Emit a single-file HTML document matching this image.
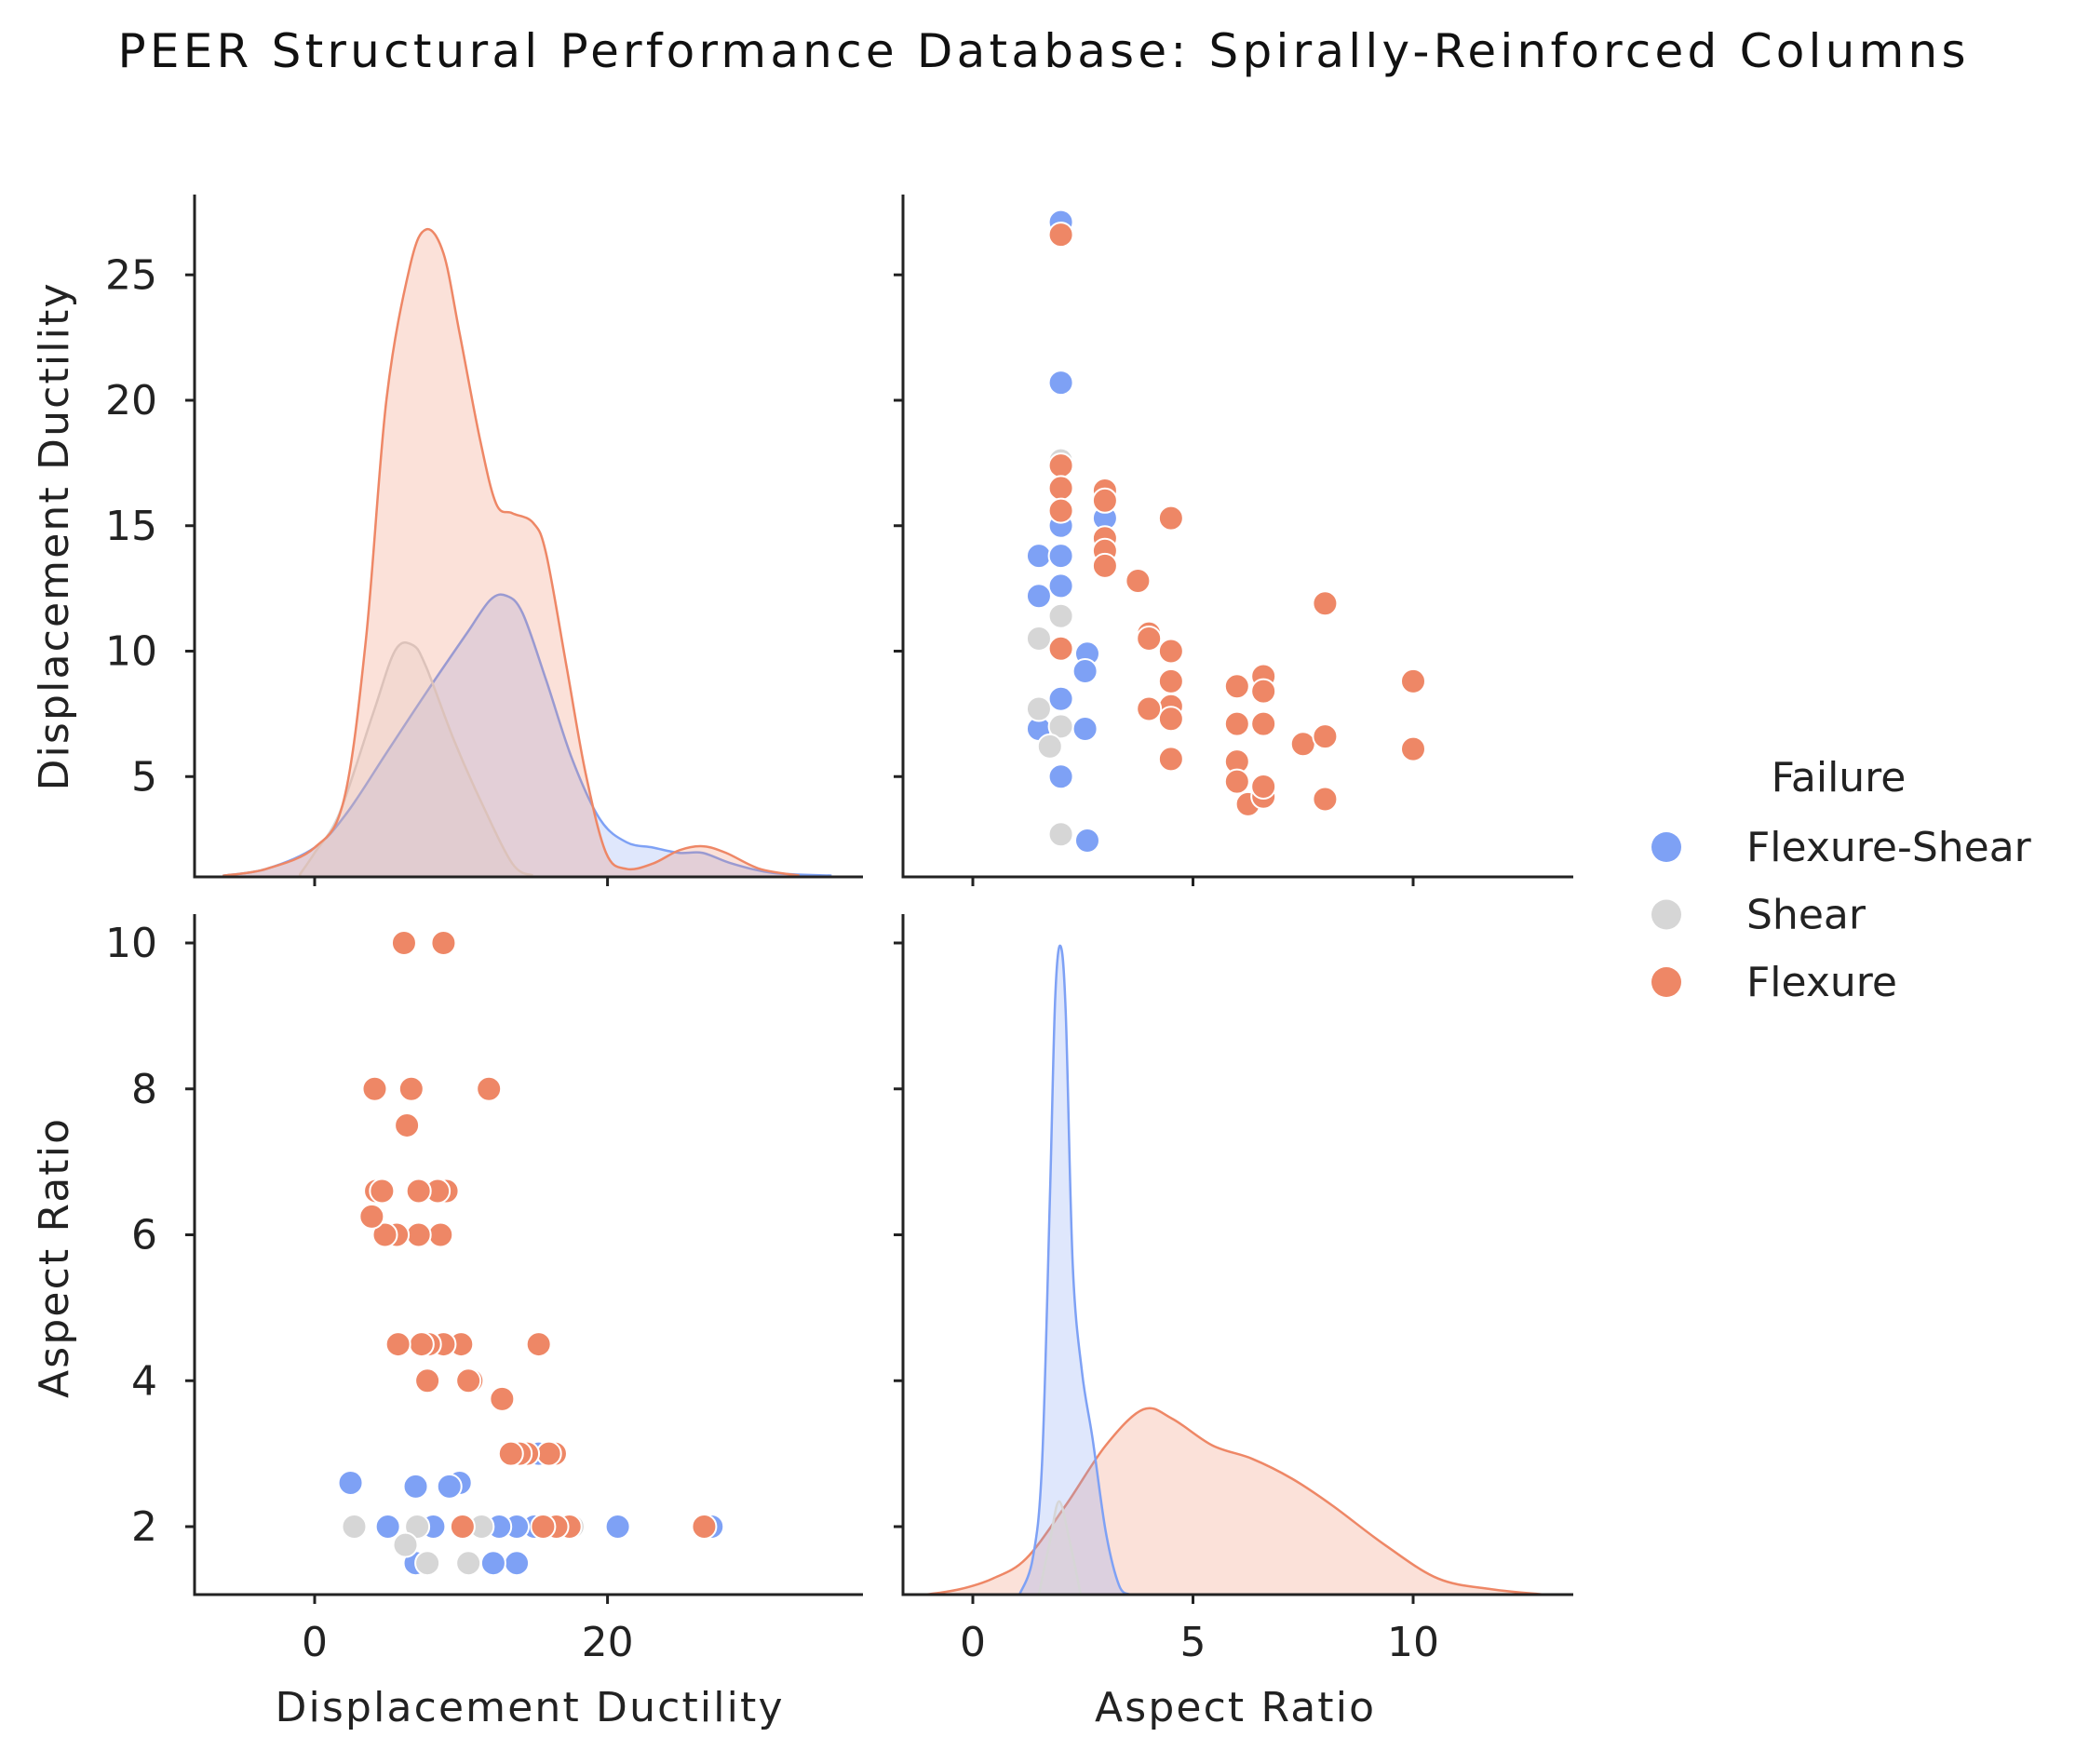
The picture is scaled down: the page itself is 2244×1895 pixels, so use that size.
<!DOCTYPE html>
<html><head><meta charset="utf-8"><style>
html,body{margin:0;padding:0;background:#fff;}
svg{display:block;font-family:"DejaVu Sans","Liberation Sans",sans-serif;}
</style></head><body>
<svg id="chart" width="2244" height="1895" viewBox="0 0 2244 1895">
<text x="1119" y="72" text-anchor="middle" font-size="50" fill="#111" textLength="1985">PEER Structural Performance Database: Spirally-Reinforced Columns</text>
<g id="g"></g>
</svg>
<script>
// point data: displacement ductility, aspect ratio, failure class (0 Flexure-Shear, 1 Shear, 2 Flexure)
const ptDD  = [27.1,20.7,15,13.8,13.8,12.6,12.2,9.9,9.2,8.1,6.9,6.9,5.0,2.45,15.3,
               10.5,11.4,7.7,7.0,6.2,2.7,17.6,
               26.6,17.4,16.5,15.6,10.1,16.4,16,14.5,14,13.4,12.8,15.3,10.7,10.5,10.0,8.8,7.8,7.3,7.7,5.7,8.6,7.1,5.6,4.8,9.0,8.4,7.1,3.9,4.2,4.6,6.3,6.6,11.9,4.1,8.8,6.1];
const ptAR  = [2,2,2,1.5,2,2,1.5,2.6,2.55,2,1.5,2.55,2,2.6,3,
               1.5,2,1.5,2,1.75,2,2,
               2,2,2,2,2,3,3,3,3,3,3.75,4.5,4,4,4.5,4.5,4.5,4.5,4,4.5,6,6,6,6,6.6,6.6,6.6,6.25,6.6,6.6,7.5,8,8,8,10,10];
const ptCls = [0,0,0,0,0,0,0,0,0,0,0,0,0,0,0,
               1,1,1,1,1,1,1,
               2,2,2,2,2,2,2,2,2,2,2,2,2,2,2,2,2,2,2,2,2,2,2,2,2,2,2,2,2,2,2,2,2,2,2,2];
const classNames = ["Flexure-Shear","Shear","Flexure"];
// KDE curves for displacement ductility
const kdeDDx_fs = [-6.2,-3.3,0,2.2,4.9,7.6,10.4,12,13.1,14.2,15.8,17.6,19.5,21.3,23.1,24.9,26.5,28.5,31.3,35.3];
const kdeDDy_fs = [0.1,0.6,2.2,4.8,9.3,13.8,18.3,20.8,21.1,19.8,14.8,8.8,4.3,2.6,2.2,1.8,1.8,1,0.3,0.1];
const kdeDDx_s  = [-1,0,1.7,4,5.5,6.7,7.6,9.5,11.3,13.5,14.9];
const kdeDDy_s  = [0.2,1.8,4.8,12.3,17,17.4,15.8,10.3,5.8,1,0.1];
const kdeDDx_f  = [-6.2,-3.3,0,2,3.5,4.9,6.5,7.6,8.8,9.9,11.3,12.4,13.5,14.9,15.8,17.2,18.5,19.9,21.3,23.1,24.9,26.5,28.1,30.4,33.1];
const kdeDDy_f  = [0.1,0.6,2.2,5.8,17.8,35.8,45.8,48.6,46.8,40.8,32.8,28,27.3,26.6,24.3,15.8,7.8,1.8,0.6,1,2,2.3,1.8,0.6,0.1];
// KDE curves for aspect ratio
const kdeARx_fs = [1.06,1.36,1.57,1.75,1.87,1.99,2.11,2.27,2.48,2.72,3.02,3.32,3.56];
const kdeARy_fs = [0,2.7,9.7,29.7,44.7,48.7,43.7,24.7,16.7,11.7,4.7,0.7,0];
const kdeARx_s  = [1.5,1.75,1.96,2.2,2.45];
const kdeARy_s  = [0,4,7,4,0];
const kdeARx_f  = [-1.06,-0.3,0.45,1.21,2.11,3.02,3.87,4.53,5.44,6.34,7.25,8.16,9.37,10.57,11.78,12.99];
const kdeARy_f  = [0,0.4,1.2,2.7,6.7,11.2,13.9,13.2,11.2,10.2,8.7,6.7,3.7,1.2,0.4,0];
const ddTicks = [5,10,15,20,25];
const arTicks = [2,4,6,8,10];
const ddXTicks = [0,20];
const arXTicks = [0,5,10];
const colors = ["#7ea1f5","#d6d6d6","#ee8766"];

const NS="http://www.w3.org/2000/svg";
const G=document.getElementById('g');
function mk(tag,attrs,parent){const e=document.createElementNS(NS,tag);for(const k in attrs)e.setAttribute(k,attrs[k]);(parent||G).appendChild(e);return e;}
const xDD=v=>338+v*15.73;
const xAR=v=>1045+v*47.3;
const yDD=v=>969-v*26.95;
const yAR=v=>1640-(v-2)*78.375;
const yKdeTop=d=>942-d*14.31;
const yKdeBot=d=>1713-d*14.31;
const panels={tl:{l:209,r:927,t:209,b:942},tr:{l:970,r:1690,t:209,b:942},bl:{l:209,r:927,t:982,b:1713},br:{l:970,r:1690,t:982,b:1713}};

function axes(p,name){
  const g=mk('g',{});
  
  
  const l=mk('path',{d:`M${p.l} ${p.t} V${p.b} H${p.r}`,fill:'none',stroke:'#222','stroke-width':3},g);
  
  
  return g;
}
function xticks(p,ticks,fx,labels,name){
  ticks.forEach(t=>{
    const x=fx(t);
    const tk=mk('line',{x1:x,x2:x,y1:p.b,y2:p.b+10,stroke:'#222','stroke-width':3});
    
    
    if(labels){const tx=mk('text',{x:x,y:p.b+66,'text-anchor':'middle','font-size':44,fill:'#222'});tx.textContent=t;
      
      }
  });
}
function yticks(p,ticks,fy,labels,name){
  ticks.forEach(t=>{
    const y=fy(t);
    const tk=mk('line',{x1:p.l-10,x2:p.l,y1:y,y2:y,stroke:'#222','stroke-width':3});
    
    
    if(labels){const tx=mk('text',{x:p.l-40,y:y+15,'text-anchor':'end','font-size':44,fill:'#222'});tx.textContent=t;
      
      }
  });
}
function kde(xs,ys,fx,fy,col,name){
  let d=`M${fx(xs[0])} ${fy(0)}`;
  const pts=xs.map((x,i)=>[fx(x),fy(ys[i])]);
  d+=` L${pts[0][0]} ${pts[0][1]}`;
  for(let i=0;i<pts.length-1;i++){
    const p0=pts[Math.max(0,i-1)],p1=pts[i],p2=pts[i+1],p3=pts[Math.min(pts.length-1,i+2)];
    const c1=[p1[0]+(p2[0]-p0[0])/6,p1[1]+(p2[1]-p0[1])/6],c2=[p2[0]-(p3[0]-p1[0])/6,p2[1]-(p3[1]-p1[1])/6];
    d+=` C${c1[0]} ${c1[1]} ${c2[0]} ${c2[1]} ${p2[0]} ${p2[1]}`;
  }
  const fill=mk('path',{d:d+` L${fx(xs[xs.length-1])} ${fy(0)} Z`,fill:col,'fill-opacity':0.25,stroke:'none'});
  
  
  const line=mk('path',{d:d,fill:'none',stroke:col,'stroke-width':2.5});
  
  
}
function scatter(fx,fy,xv,yv,name){
  [0,1,2].forEach(c=>{
    for(let i=0;i<ptCls.length;i++){ if(ptCls[i]!==c) continue;
      const m=mk('circle',{cx:fx(xv[i]),cy:fy(yv[i]),r:13,fill:colors[c],stroke:'#fff','stroke-width':2});
      
      
    }
  });
}
kde(kdeDDx_fs,kdeDDy_fs,xDD,yKdeTop,colors[0],'dd-flexure-shear');
kde(kdeDDx_s,kdeDDy_s,xDD,yKdeTop,colors[1],'dd-shear');
kde(kdeDDx_f,kdeDDy_f,xDD,yKdeTop,colors[2],'dd-flexure');
kde(kdeARx_f,kdeARy_f,xAR,yKdeBot,colors[2],'ar-flexure');
kde(kdeARx_fs,kdeARy_fs,xAR,yKdeBot,colors[0],'ar-flexure-shear');
kde(kdeARx_s,kdeARy_s,xAR,yKdeBot,colors[1],'ar-shear');
scatter(xAR,yDD,ptAR,ptDD,'tr');
scatter(xDD,yAR,ptDD,ptAR,'bl');

axes(panels.tl,'tl');axes(panels.tr,'tr');axes(panels.bl,'bl');axes(panels.br,'br');
xticks(panels.tl,ddXTicks,xDD,false,'tl');yticks(panels.tl,ddTicks,yDD,true,'tl');
xticks(panels.tr,arXTicks,xAR,false,'tr');yticks(panels.tr,ddTicks,yDD,false,'tr');
xticks(panels.bl,ddXTicks,xDD,true,'bl');yticks(panels.bl,arTicks,yAR,true,'bl');
xticks(panels.br,arXTicks,xAR,true,'br');yticks(panels.br,arTicks,yAR,false,'br');

function txt(attrs,s,name){const t=mk('text',attrs);t.textContent=s;return t;}
txt({x:568,y:1849,'text-anchor':'middle','font-size':44,fill:'#222',textLength:545},'Displacement Ductility','x-axis-title-ductility');
txt({x:1326,y:1849,'text-anchor':'middle','font-size':44,fill:'#222',textLength:300},'Aspect Ratio','x-axis-title-aspect');
txt({x:73,y:577,'text-anchor':'middle','font-size':44,fill:'#222',textLength:545,transform:'rotate(-90 73 577)'},'Displacement Ductility','y-axis-title-ductility');
txt({x:73,y:1352,'text-anchor':'middle','font-size':44,fill:'#222',textLength:300,transform:'rotate(-90 73 1352)'},'Aspect Ratio','y-axis-title-aspect');

const lg=mk('g',{});


txt({x:1975,y:850,'text-anchor':'middle','font-size':44,fill:'#222'},'Failure','legend-title');
classNames.forEach((n,i)=>{
  const y=910+i*72.5;
  const c=mk('circle',{cx:1790,cy:y,r:16,fill:colors[i]},lg);
  
  
  txt({x:1876,y:y+15,'font-size':44,fill:'#222'},n,'legend-entry-'+n.toLowerCase());
});
</script>
</body></html>
